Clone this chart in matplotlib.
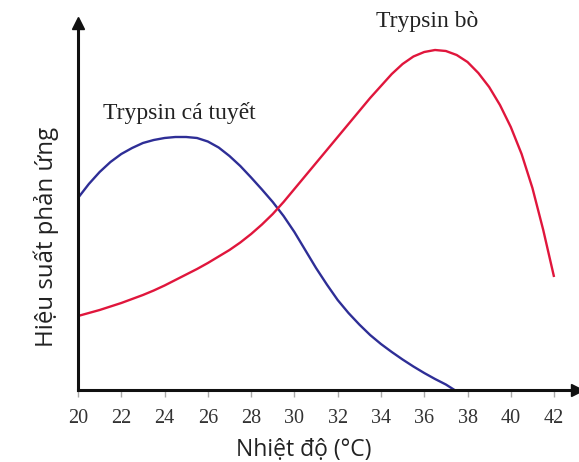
import matplotlib
matplotlib.use('Agg')
import matplotlib.pyplot as plt
import numpy as np

# values (arbitrary efficiency units, axis top = 367)
temp_cod = list(np.arange(20, 37.5, 0.5)) + [37.4]
eff_cod = [192, 206, 218, 228, 236, 242, 247, 250, 252, 253, 253, 252, 248.5, 242.5,
           234, 224, 212.5, 200.5, 188, 174, 158, 140, 122, 105.5, 90, 77, 65.5, 55,
           46, 38, 30.5, 23.5, 17, 11, 5.5, 0]

temp_cow = list(np.arange(20, 42.5, 0.5))
eff_cow = [74, 77, 80, 83.5, 87, 91, 95, 99.5, 104.5, 110, 115.5, 121, 127, 133.5, 140,
           147.5, 156, 165.5, 176, 188, 201, 214, 227, 240, 253, 266, 279, 292, 304, 316,
           326, 333.5, 338, 340, 339, 335, 328, 317, 303, 285, 263, 236, 202, 160, 113]

xticks = list(range(20, 43, 2))

serif = ['Liberation Serif', 'DejaVu Serif']
sans = ['Open Sans', 'DejaVu Sans']

fig = plt.figure(figsize=(5.79, 4.62), dpi=100)
ax = fig.add_axes([78/579, 72/462, 499/579, 367/462])

ax.plot(temp_cod, eff_cod, color='#2e2e96', lw=1.7, solid_capstyle='butt')
ax.plot(temp_cow, eff_cow, color='#e0163c', lw=1.7, solid_capstyle='butt')

ax.set_xlim(20, 43.06)
ax.set_ylim(0, 367)

for s in ['top', 'right']:
    ax.spines[s].set_visible(False)
for s in ['left', 'bottom']:
    ax.spines[s].set_linewidth(2.2)
    ax.spines[s].set_color('#111111')

# arrow heads
ax.plot(1, 0, '>', color='#111111', ms=9, transform=ax.transAxes, clip_on=False)
ax.plot(0, 1, '^', color='#111111', ms=9, transform=ax.transAxes, clip_on=False)

ax.set_xticks(xticks)
ax.set_xticklabels([str(t) for t in xticks], family=serif, fontsize=14.5, color='#333333')
ax.tick_params(axis='x', length=5, width=1, color='#aaaaaa', pad=9)
ax.set_yticks([])

ax.text(0.453, -0.18, 'Nhiệt độ (°C)', transform=ax.transAxes, ha='center', va='baseline',
        family=sans, fontsize=16.5, color='#222222')
ax.text(-0.063, 0.417, 'Hiệu suất phản ứng', transform=ax.transAxes, ha='center', va='center',
        rotation=90, family=sans, fontsize=17.3, color='#222222')

ax.text(24.67, 277, 'Trypsin cá tuyết', ha='center', va='center', family=serif,
        fontsize=17, color='#222222')
ax.text(36.15, 368, 'Trypsin bò', ha='center', va='center', family=serif,
        fontsize=17, color='#222222', clip_on=False)

fig.savefig('out.png', dpi=100)
